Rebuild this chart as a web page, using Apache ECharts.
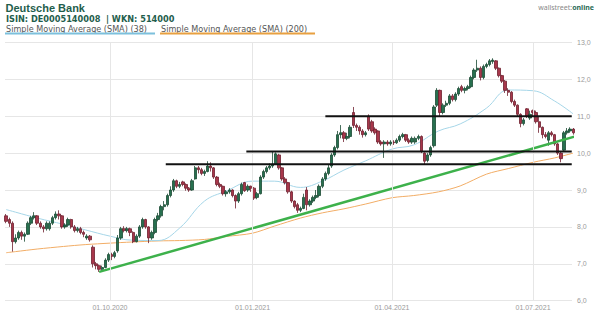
<!DOCTYPE html>
<html><head><meta charset="utf-8">
<script src="https://cdn.jsdelivr.net/npm/echarts@6/dist/echarts.min.js"></script>
<style>html,body{margin:0;padding:0;background:#fff}#c{width:600px;height:314px}</style>
</head><body><div id="c"></div>
<script>
// ---------- data ----------
const chartTitle = 'Deutsche Bank';
const chartSubtitle = 'ISIN: DE0005140008  | WKN: 514000';
const legendNames = ['Simple Moving Average (SMA) (38)', 'Simple Moving Average (SMA) (200)'];
const xTickDates = ['2020-10-01', '2021-01-01', '2021-04-01', '2021-07-01'];
const yTicks = [6, 7, 8, 9, 10, 11, 12, 13];
const firstCandleDate = '2020-07-26';
const candleStepDays = 2;
// [open, close, low, high]
const ohlc = [
[8.3,8.15,8.1,8.35],[8.2,8.1,8.0,8.25],[8.1,7.6,7.33,8.15],[7.6,7.7,7.55,7.8],[7.7,7.85,7.65,7.9],
[7.85,7.75,7.65,7.9],[7.75,7.8,7.6,7.85],[7.8,8.1,7.78,8.15],[8.1,8.25,8.05,8.3],[8.25,8.3,8.2,8.4],
[8.3,8.1,8.05,8.32],[8.1,8.0,7.95,8.15],[8.0,7.95,7.85,8.05],[7.95,8.1,7.9,8.15],
[7.95,8.1,7.9,8.15],[8.1,8.25,8.05,8.3],[8.25,8.35,8.2,8.42],[8.35,8.3,8.2,8.45],[8.3,8.0,7.95,8.32],
[8.0,8.05,7.95,8.1],[8.05,8.2,8.0,8.25],[8.2,8.0,7.95,8.22],[8.0,7.9,7.85,8.05],[7.9,7.95,7.85,8.0],
[7.95,7.85,7.8,8.0],[7.85,7.8,7.72,7.9],[7.7,7.75,7.65,7.8],[7.75,7.65,7.6,7.78],[7.45,7.0,6.9,7.5],
[7.0,6.95,6.85,7.05],[6.95,6.85,6.78,6.98],[6.85,6.9,6.8,6.95],[6.9,7.1,6.88,7.15],[7.1,7.25,7.05,7.3],
[7.25,7.2,7.1,7.3],[7.2,7.3,7.15,7.35],[7.35,7.7,7.3,7.78],[7.7,7.95,7.65,8.0],[7.95,7.9,7.85,8.02],
[7.9,7.95,7.85,8.0],[7.95,7.85,7.75,7.98],[7.85,7.6,7.56,7.88],[7.6,7.75,7.58,7.8],[7.75,8.0,7.7,8.05],
[8.0,8.2,7.95,8.25],[8.2,8.0,7.95,8.22],
[8.0,7.7,7.56,8.02],[7.7,7.85,7.65,7.9],[7.85,8.2,7.8,8.25],[8.2,8.3,8.15,8.38],[8.3,8.55,8.25,8.6],
[8.55,8.6,8.45,8.7],[8.6,8.85,8.55,8.9],[8.85,9.0,8.8,9.1],[9.0,9.25,8.95,9.3],[9.25,9.1,9.05,9.28],
[9.1,9.15,9.05,9.22],[9.22,9.15,9.1,9.25],[9.15,9.05,8.98,9.18],[9.05,9.0,8.95,9.08],[9.0,9.25,8.98,9.3],
[9.3,9.6,9.28,9.65],[9.6,9.55,9.45,9.65],[9.55,9.45,9.4,9.6],[9.45,9.5,9.38,9.55],[9.5,9.65,9.48,9.78],
[9.65,9.6,9.5,9.75],[9.6,9.35,9.3,9.62],[9.35,9.15,9.1,9.38],[9.15,9.1,9.05,9.2],[9.1,8.9,8.85,9.12],
[8.9,8.95,8.82,9.0],[8.95,9.0,8.9,9.05],[9.0,8.85,8.8,9.02],[8.85,8.7,8.5,8.88],[8.7,8.9,8.65,8.95],
[8.9,9.15,8.85,9.2],[9.2,8.98,8.95,9.22],
[9.0,9.1,8.95,9.15],[9.1,9.05,8.95,9.12],[9.05,8.78,8.73,9.08],[8.8,8.9,8.75,8.95],[8.9,9.35,8.88,9.4],
[9.35,9.5,9.3,9.55],[9.5,9.6,9.45,9.65],[9.6,9.65,9.55,9.72],[9.65,9.7,9.6,10.05],[9.7,9.98,9.68,10.02],
[9.95,9.6,9.55,9.98],[9.6,9.3,9.25,9.62],[9.3,9.2,9.15,9.35],[9.2,8.95,8.9,9.22],[8.95,8.7,8.65,8.98],
[8.7,8.55,8.5,8.72],[8.6,8.45,8.38,8.65],[8.45,8.5,8.4,8.55],[8.5,8.8,8.48,8.9],[9.0,8.6,8.45,9.08],
[8.6,8.7,8.55,8.75],
[8.7,8.8,8.65,8.85],[8.8,8.85,8.75,9.0],[8.85,9.1,8.8,9.15],[9.1,9.3,9.05,9.35],[9.3,9.45,9.25,9.5],
[9.45,9.6,9.4,9.68],[9.65,9.95,9.6,10.0],[9.95,10.15,9.9,10.2],[10.15,10.5,10.1,10.6],[10.5,10.55,10.4,10.76],
[10.55,10.4,10.3,10.6],[10.4,10.45,10.35,10.55],[10.45,10.7,10.4,10.76],[11.1,10.75,10.68,11.25],[10.75,10.7,10.6,10.8],
[10.7,10.6,10.5,10.75],[10.6,10.5,10.42,10.65],[10.5,10.55,10.45,10.6],[11.0,10.65,10.6,11.05],[10.85,10.6,10.55,10.9],
[10.65,10.55,10.5,10.7],[10.6,10.3,10.25,10.62],[10.3,10.25,10.2,10.35],[10.25,10.3,9.87,10.35],[10.3,10.25,10.2,10.35],
[10.25,10.3,10.2,10.35],[10.3,10.28,10.22,10.35],[10.28,10.35,10.25,10.4],[10.35,10.45,10.3,10.5],[10.45,10.5,10.4,10.55],
[10.5,10.35,10.3,10.52],[10.35,10.3,10.25,10.4],[10.3,10.4,10.25,10.45],
[10.3,10.4,10.25,10.45],[10.4,10.45,10.35,10.5],[10.45,10.05,10.0,10.48],[10.0,9.78,9.7,10.02],[9.8,9.95,9.75,10.0],
[9.95,10.15,9.9,10.2],[10.2,11.25,10.15,11.3],[11.3,11.7,11.25,11.76],[11.7,11.1,10.98,11.72],[11.1,11.3,11.05,11.35],
[11.3,11.35,11.25,11.42],[11.35,11.55,11.3,11.6],[11.55,11.45,11.4,11.6],[11.45,11.6,11.4,11.65],[11.6,11.75,11.55,11.8],
[11.8,11.7,11.65,11.85],[11.7,11.75,11.62,11.8],[11.75,11.8,11.7,11.85],[11.8,12.05,11.76,12.1],[12.05,12.25,12.0,12.3],
[12.25,12.3,12.2,12.53],[12.3,12.05,11.97,12.35],[12.05,12.35,12.0,12.4],[12.35,12.4,12.3,12.45],[12.4,12.5,12.35,12.55],
[12.48,12.52,12.42,12.57],[12.5,12.3,12.25,12.52],[12.3,12.1,12.05,12.32],[12.1,11.95,11.9,12.12],[11.95,11.7,11.63,11.98],
[11.7,11.65,11.55,11.76],[11.65,11.4,11.35,11.68],[11.4,11.3,11.25,11.45],[11.3,11.05,10.98,11.32],[11.05,10.8,10.7,11.08],
[10.8,10.9,10.75,10.95],[11.2,11.0,10.95,11.22],
[10.95,11.05,10.9,11.15],[11.15,11.1,11.0,11.18],[11.1,10.85,10.8,11.15],[10.85,10.7,10.55,10.98],[10.7,10.5,10.4,10.72],
[10.5,10.45,10.4,10.57],[10.35,10.55,10.2,10.6],[10.55,10.5,10.45,10.6],[10.5,10.25,10.2,10.52],[10.25,10.0,9.95,10.28],
[10.0,9.85,9.75,10.05],[10.08,10.55,10.05,10.6],[10.55,10.6,10.5,10.68],[10.6,10.65,10.55,10.7],[10.65,10.55,10.5,10.68]
];
const smaDates = ['2020-07-26','2020-08-01','2020-08-15','2020-09-01','2020-09-15','2020-10-01','2020-10-15',
  '2020-11-01','2020-11-15','2020-12-01','2020-12-15','2021-01-01','2021-01-15','2021-02-01','2021-02-15',
  '2021-03-01','2021-03-15','2021-04-01','2021-04-15','2021-05-01','2021-05-15','2021-06-01','2021-06-15',
  '2021-07-01','2021-07-15','2021-07-27'];
const sma38 = [8.47,8.40,8.24,8.07,7.92,7.75,7.64,7.63,7.97,8.70,8.97,9.24,9.24,9.07,9.24,9.54,9.79,10.11,10.22,10.60,10.79,11.22,11.71,11.69,11.41,11.06];
const sma200 = [7.30,7.33,7.40,7.47,7.52,7.56,7.59,7.62,7.63,7.66,7.74,7.83,8.02,8.24,8.38,8.49,8.62,8.79,8.85,8.95,9.11,9.43,9.58,9.75,9.87,10.00];
const trendDates = ['2020-09-24', '2021-07-29'];
const trendValues = [6.78, 10.46];
const levelValues = [9.70, 10.04, 11.00];
const levelStartDates = ['2020-11-06', '2020-12-28', '2021-02-17'];
const levelEndDate = '2021-07-26';

// ---------- helpers ----------
function ts(s) { const p = s.split('-').map(Number); return new Date(p[0], p[1] - 1, p[2]).getTime(); }
const DAY = 86400000;
const candleData = ohlc.map((v, i) => [ts(firstCandleDate) + i * candleStepDays * DAY].concat(v));
const pad = n => (n < 10 ? '0' : '') + n;
const fmtDate = v => { const d = new Date(v); return pad(d.getDate()) + '.' + pad(d.getMonth() + 1) + '.' + d.getFullYear(); };
const xMin = ts('2020-07-25') + 6 * 3600000;
const xMax = ts('2021-07-26') + 4 * 3600000;

const gridCol = '#e6e6e6';
const chart = echarts.init(document.getElementById('c'), null, { renderer: 'svg' });
chart.setOption({
  animation: false,
  backgroundColor: '#fff',
  grid: { left: 5, right: 28, top: 42.4, bottom: 13.3, containLabel: false },
  xAxis: {
    type: 'time', min: xMin, max: xMax,
    axisLine: { show: false }, axisTick: { show: false }, splitLine: { show: false },
    axisLabel: { show: false }
  },
  yAxis: {
    type: 'value', position: 'right', min: yTicks[0], max: yTicks[yTicks.length - 1], interval: 1,
    axisLine: { show: false }, axisTick: { show: false },
    splitLine: { lineStyle: { color: gridCol, width: 1 } },
    axisLabel: { formatter: v => v.toFixed(1).replace('.', ','), color: '#9a9a9a', fontSize: 7, fontFamily: 'Liberation Sans', margin: 5 }
  },
  series: [
    {
      type: 'line', data: [], silent: true, symbol: 'none',
      markLine: {
        silent: true, symbol: 'none',
        label: { show: true, position: 'start', distance: 3, formatter: p => fmtDate(p.value), color: '#9a9a9a', fontSize: 7, fontFamily: 'Liberation Sans' },
        lineStyle: { color: gridCol, width: 1, type: 'solid' },
        data: xTickDates.map(d => ({ xAxis: ts(d) }))
      }, z: 0
    },
    {
      name: legendNames[1], type: 'line', data: smaDates.map((d, i) => [ts(d), sma200[i]]),
      symbol: 'none', smooth: 0.3, lineStyle: { color: '#f2ad66', width: 1 }, z: 1, silent: true
    },
    {
      name: legendNames[0], type: 'line', data: smaDates.map((d, i) => [ts(d), sma38[i]]),
      symbol: 'none', smooth: 0.4, lineStyle: { color: '#a6d6e8', width: 1 }, z: 1, silent: true
    },
    {
      type: 'candlestick', data: candleData, barWidth: 2.9, clip: false, z: 2, silent: true,
      itemStyle: { color: '#27704f', color0: '#a8374b', borderColor: '#1a4a34', borderColor0: '#6e1f2e', borderWidth: 0.8 }
    },
    {
      type: 'line', data: trendDates.map((d, i) => [ts(d), trendValues[i]]), symbol: 'none',
      lineStyle: { color: '#3db14b', width: 2.5 }, z: 4, silent: true
    }
  ].concat(levelValues.map((v, i) => ({
    type: 'line', data: [[ts(levelStartDates[i]), v], [ts(levelEndDate), v]], symbol: 'none',
    lineStyle: { color: '#111', width: 2 }, z: 5, silent: true
  }))),
  graphic: [
    { type: 'text', left: 5.5, top: 2.3, style: { text: chartTitle, font: 'bold 11px "Liberation Sans"', fill: '#1f5e4c' } },
    { type: 'text', left: 6, top: 14.9, style: { text: chartSubtitle, font: 'bold 8.2px "DejaVu Sans"', fill: '#1f5e4c' } },
    { type: 'text', left: 6, top: 24.5, style: { text: legendNames[0], font: '8.1px "DejaVu Sans"', fill: '#555' } },
    { type: 'text', left: 161, top: 24.5, style: { text: legendNames[1], font: '8.1px "DejaVu Sans"', fill: '#555' } },
    { type: 'rect', shape: { x: 5, y: 32.6, width: 150, height: 1.8 }, style: { fill: '#7cc0dc' } },
    { type: 'rect', shape: { x: 160, y: 32.6, width: 155, height: 1.8 }, style: { fill: '#e8a040' } },
    { type: 'text', right: 6, top: 4, style: { rich: { a: { fontSize: 7, fontFamily: 'Noto Sans', fill: '#888' }, b: { fontSize: 7, fontFamily: 'Noto Sans', fontWeight: 'bold', fill: '#2a6a55' } }, text: '{a|wallstreet:}{b|online}' } }
  ]
});
</script></body></html>
